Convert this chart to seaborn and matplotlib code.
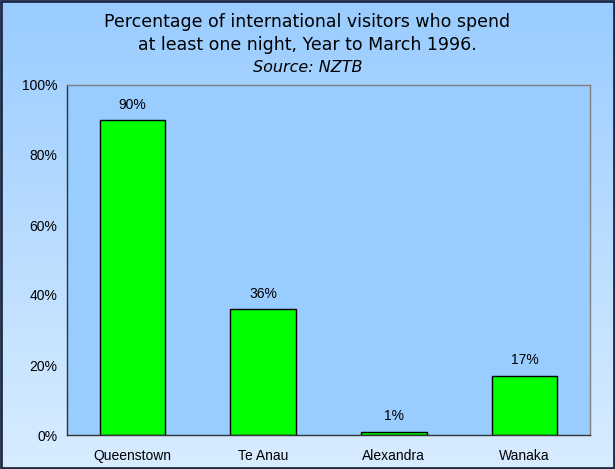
import numpy as np
import pandas as pd
import matplotlib
matplotlib.use("Agg")
import matplotlib.pyplot as plt
import seaborn as sns
from matplotlib.colors import LinearSegmentedColormap
from matplotlib.ticker import FixedLocator, PercentFormatter

categories = ["Queenstown", "Te Anau", "Alexandra", "Wanaka"]
values = [90, 36, 1, 17]
labels = ["90%", "36%", "1%", "17%"]
yticks = [0, 20, 40, 60, 80, 100]

sns.set_style("white")
plt.rcParams['font.family'] = ['Liberation Sans', 'DejaVu Sans']
plt.rcParams['text.color'] = 'black'
plt.rcParams['xtick.color'] = 'black'
plt.rcParams['ytick.color'] = 'black'

fig = plt.figure(figsize=(6.15, 4.69), dpi=100)

# gradient background
bg = fig.add_axes([0, 0, 1, 1], zorder=-10)
cmap = LinearSegmentedColormap.from_list("g", ["#99CCFF", "#D8ECFF"])
grad = np.linspace(0, 1, 256).reshape(-1, 1)
bg.imshow(grad, aspect="auto", cmap=cmap, extent=[0, 1, 0, 1], origin="upper")
bg.set_xlim(0, 1); bg.set_ylim(0, 1)
bg.axis("off")
bg.add_patch(plt.Rectangle((0.0015, 0.002), 0.997, 0.996, fill=False, edgecolor="#1F2A44",
                           linewidth=2, transform=bg.transAxes))

ax = fig.add_axes([67/615, 34/469, 523/615, 350/469])
ax.set_facecolor("#99CCFF")
df = pd.DataFrame({"cat": categories, "val": values})
sns.barplot(data=df, x="cat", y="val", ax=ax, color="#00FF00", saturation=1,
            width=0.5, edgecolor="black", linewidth=1)
ax.set_ylim(0, 100)
ax.set_xlim(-0.5, 3.5)
ax.set_xlabel(""); ax.set_ylabel("")
ax.yaxis.set_major_locator(FixedLocator(yticks))
ax.yaxis.set_major_formatter(PercentFormatter(decimals=0))
ax.tick_params(axis="y", which="major", direction="out", length=4, width=1, color="#333333",
               labelsize=10, pad=3, labelcolor="black")
ax.tick_params(axis="x", which="major", length=0, labelsize=10, pad=10, labelcolor="black")
ax.xaxis.set_minor_locator(FixedLocator([-0.5, 0.5, 1.5, 2.5, 3.5]))
ax.tick_params(axis="x", which="minor", direction="out", length=4, width=1, color="#333333")
for s in ["left", "bottom"]:
    ax.spines[s].set_color("#333333"); ax.spines[s].set_linewidth(1)
for s in ["top", "right"]:
    ax.spines[s].set_color("#808080"); ax.spines[s].set_linewidth(1)
    ax.spines[s].set_visible(True)

for i, (v, l) in enumerate(zip(values, labels)):
    ax.annotate(l, (i, v), xytext=(0, 6), textcoords="offset points",
                ha="center", va="bottom", fontsize=10, color="black")

fig.text(0.5, 1 - 22/469, "Percentage of international visitors who spend",
         ha="center", va="center", fontsize=12.5, family="DejaVu Sans", color="black")
fig.text(0.5, 1 - 45/469, "at least one night, Year to March 1996.",
         ha="center", va="center", fontsize=12.5, family="DejaVu Sans", color="black")
fig.text(0.5, 1 - 67/469, "Source: NZTB", ha="center", va="center", fontsize=11.5,
         family="DejaVu Sans", style="italic", color="black")

fig.savefig("out.png", dpi=100)
